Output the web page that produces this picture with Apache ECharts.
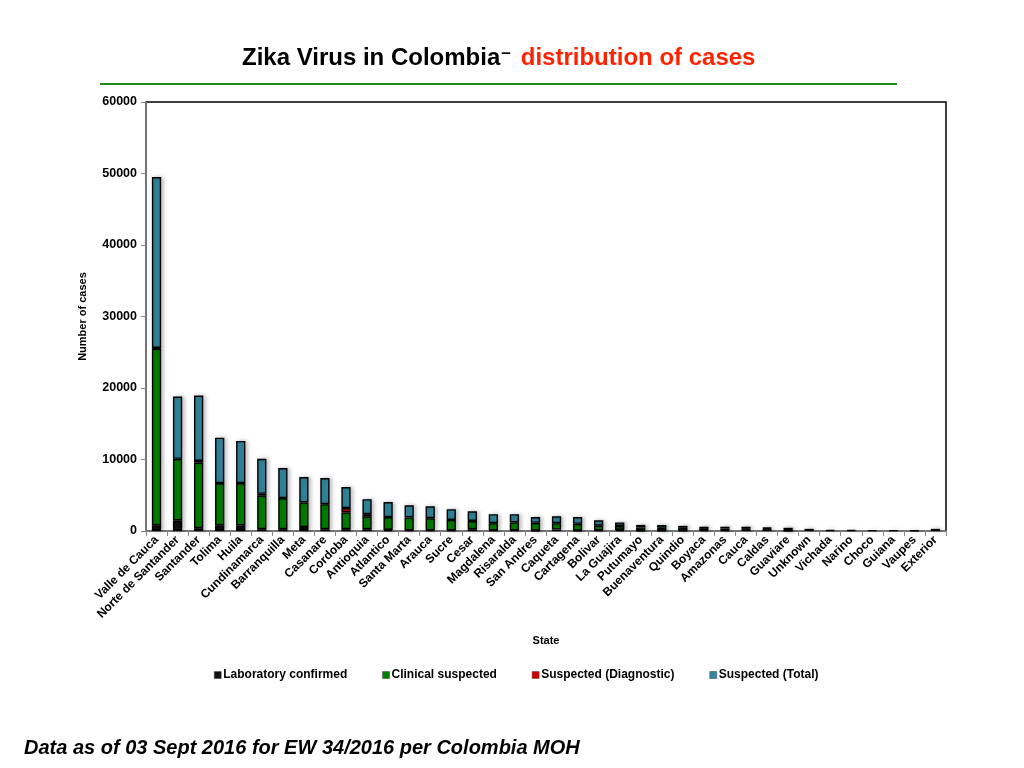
<!DOCTYPE html>
<html>
<head>
<meta charset="utf-8">
<script src="https://cdn.jsdelivr.net/npm/echarts@6/dist/echarts.min.js"></script>
<style>
  html, body { margin: 0; padding: 0; background: #fff; }
  #chart { width: 1024px; height: 768px; }
</style>
</head>
<body>
<div id="chart"></div>
<script>
// states, in the order of the chart
var states = ['Valle de Cauca', 'Norte de Santander', 'Santander', 'Tolima', 'Huila', 'Cundinamarca',
  'Barranquilla', 'Meta', 'Casanare', 'Cordoba', 'Antioquia', 'Atlantico', 'Santa Marta', 'Arauca',
  'Sucre', 'Cesar', 'Magdalena', 'Risaralda', 'San Andres', 'Caqueta', 'Cartagena', 'Bolivar',
  'La Guajira', 'Putumayo', 'Buenaventura', 'Quindio', 'Boyaca', 'Amazonas', 'Cauca', 'Caldas',
  'Guaviare', 'Unknown', 'Vichada', 'Narino', 'Choco', 'Guiana', 'Vaupes', 'Exterior'];

// stacked pieces
var labConfirmed = [800, 1500, 400, 800, 800, 250, 250, 550, 250, 250, 250, 150, 100, 100,
  100, 250, 100, 100, 50, 200, 50, 100, 150, 50, 30, 30, 100, 100, 250, 250,
  30, 300, 130, 120, 110, 100, 90, 300];
var clinicalSuspected = [24700, 8600, 9150, 5900, 5900, 4700, 4350, 3450, 3500, 2350, 1800, 1800, 1800, 1700,
  1450, 1150, 1000, 1100, 1100, 900, 950, 650, 550, 450, 420, 420, 200, 250, 100, 150,
  50, 0, 0, 0, 0, 0, 0, 0];
var suspectedDiagnostic = [100, 0, 250, 0, 0, 250, 0, 0, 0, 600, 300, 0, 0, 0,
  0, 0, 0, 0, 0, 0, 0, 0, 0, 0, 0, 0, 0, 0, 0, 0,
  0, 0, 0, 0, 0, 0, 0, 0];
var suspectedTotal = [23900, 8700, 9150, 6350, 5900, 4900, 4200, 3550, 3650, 2950, 2100, 2100, 1700, 1650,
  1500, 1350, 1250, 1150, 800, 950, 950, 750, 500, 350, 400, 270, 300, 250, 250, 80,
  370, 0, 0, 0, 0, 0, 0, 0];

var yTicks = [0, 10000, 20000, 30000, 40000, 50000, 60000];

var chart = echarts.init(document.getElementById('chart'));

var font = 'Liberation Sans, Arial, sans-serif';

function bar(name, data, color) {
  return {
    name: name,
    type: 'bar',
    stack: 'cases',
    barWidth: '44%',
    data: data.map(function (v) { return v ? v : null; }),
    itemStyle: {
      color: color,
      borderColor: '#000',
      borderWidth: 1.4,
      shadowColor: 'rgba(0,0,0,0.25)',
      shadowBlur: 4,
      shadowOffsetX: 2
    }
  };
}

var option = {
  backgroundColor: '#fff',
  animation: false,
  title: {
    left: 237,
    top: 40,
    text: '{a|Zika Virus in Colombia}{b|–}{c|distribution of cases}',
    textStyle: {
      rich: {
        a: { fontFamily: font, fontSize: 24, fontWeight: 'bold', color: '#000' },
        b: { fontFamily: font, fontSize: 17, fontWeight: 'bold', color: '#000', verticalAlign: 'top', padding: [0, 10, 9, 1] },
        c: { fontFamily: font, fontSize: 24, fontWeight: 'bold', color: '#ff2200' }
      }
    }
  },
  graphic: [
    {
      type: 'line',
      shape: { x1: 100, y1: 84, x2: 897, y2: 84 },
      style: { stroke: '#1e8a1e', lineWidth: 2 }
    },
    {
      type: 'text',
      left: 24,
      top: 738,
      style: {
        text: 'Data as of 03 Sept 2016 for EW 34/2016 per Colombia MOH',
        font: 'italic bold 20px Liberation Sans, Arial, sans-serif',
        fill: '#000'
      }
    }
  ],
  legend: {
    left: 209,
    top: 664,
    itemWidth: 7,
    itemHeight: 7,
    itemGap: 35,
    icon: 'rect',
    textStyle: { fontFamily: font, fontSize: 12, fontWeight: 'bold', color: '#000', padding: [0, 0, 0, -3] },
    itemStyle: { borderColor: '#444', borderWidth: 0.5, shadowBlur: 0, shadowOffsetX: 0 }
  },
  grid: {
    left: 146,
    right: 78,
    top: 102,
    bottom: 237,
    show: true,
    borderColor: '#000',
    borderWidth: 1.5
  },
  xAxis: {
    type: 'category',
    data: states,
    name: 'State',
    nameLocation: 'middle',
    nameGap: 104,
    nameTextStyle: { fontFamily: font, fontSize: 11, fontWeight: 'bold', color: '#000' },
    axisLine: { lineStyle: { color: '#888', width: 1.5 } },
    axisTick: { show: true, length: 5, lineStyle: { color: '#888' } },
    axisLabel: {
      interval: 0,
      rotate: 45,
      margin: 7,
      fontFamily: font,
      fontSize: 12,
      fontWeight: 'bold',
      color: '#000'
    }
  },
  yAxis: {
    type: 'value',
    min: yTicks[0],
    max: yTicks[yTicks.length - 1],
    interval: yTicks[1] - yTicks[0],
    name: 'Number of cases',
    nameLocation: 'middle',
    nameGap: 58,
    nameTextStyle: { fontFamily: font, fontSize: 11, fontWeight: 'bold', color: '#000' },
    axisLine: { show: true, lineStyle: { color: '#888', width: 1.5 } },
    axisTick: { show: true, length: 5, lineStyle: { color: '#888' } },
    splitLine: { show: false },
    axisLabel: {
      fontFamily: font, fontSize: 12.5, fontWeight: 'bold', color: '#000', margin: 9,
      formatter: function (v) { return String(v); }
    }
  },
  series: [
    bar('Laboratory confirmed', labConfirmed, '#111111'),
    bar('Clinical suspected', clinicalSuspected, '#008000'),
    bar('Suspected (Diagnostic)', suspectedDiagnostic, '#d00000'),
    bar('Suspected (Total)', suspectedTotal, '#31869e')
  ]
};

chart.setOption(option);
</script>
</body>
</html>
